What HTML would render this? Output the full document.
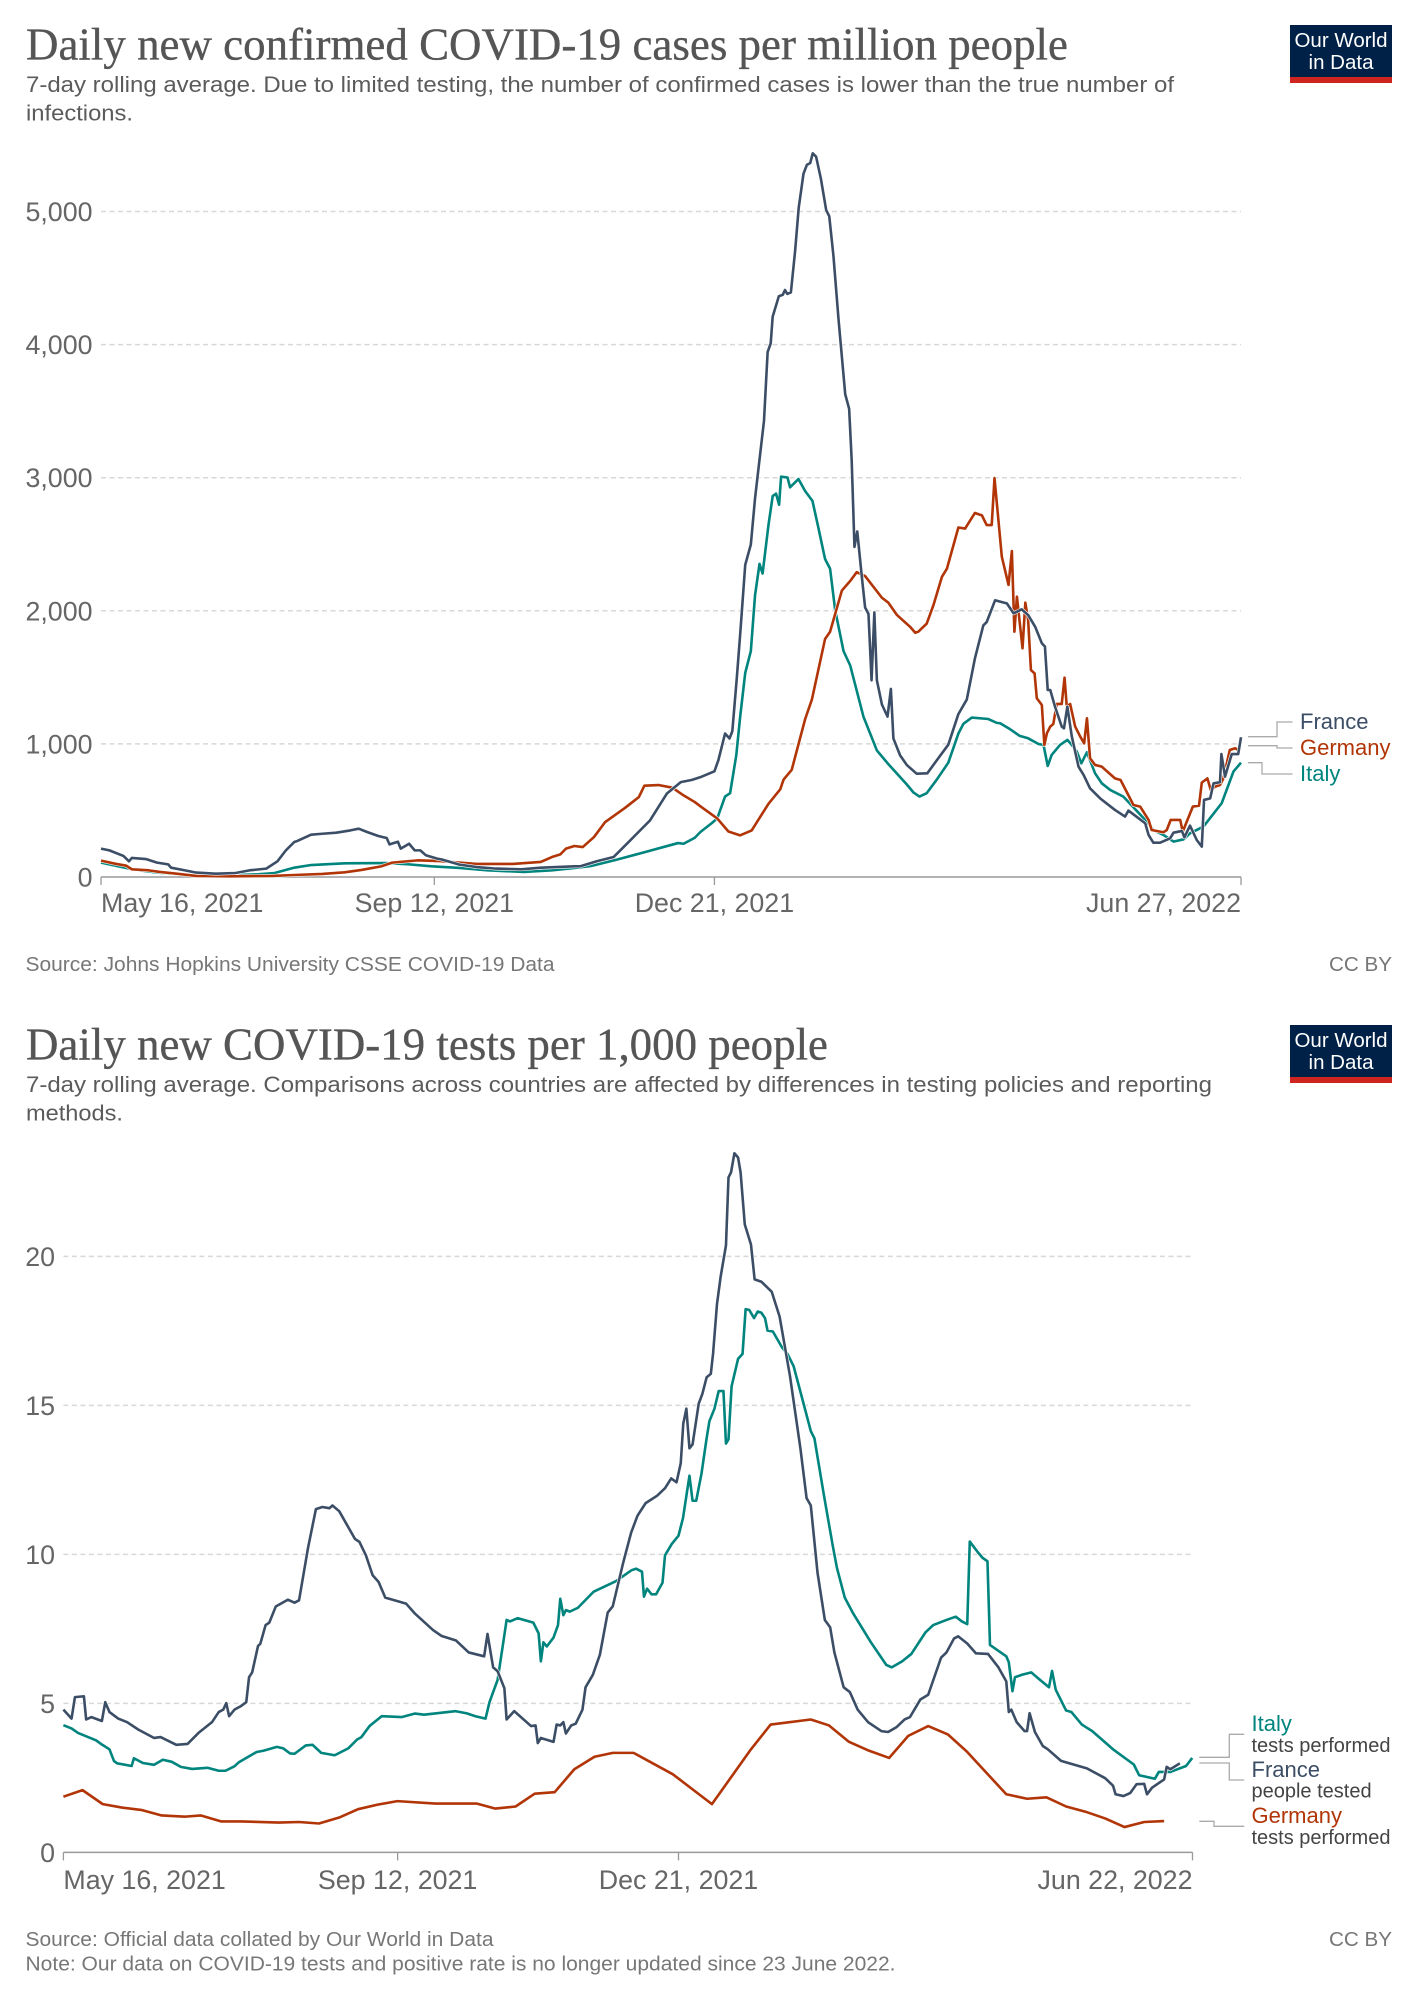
<!DOCTYPE html>
<html lang="en">
<head>
<meta charset="utf-8">
<title>COVID-19 cases and tests</title>
<style>
html,body{margin:0;padding:0;background:#fff;width:1417px;height:2000px;overflow:hidden}
svg{display:block}
text{font-family:"Liberation Sans",Arial,sans-serif}
.title{font-family:"Liberation Serif",Georgia,serif;font-size:46px;fill:#555;stroke:#555;stroke-width:.35}
.sub{font-size:22.5px;fill:#5b5b5b}
.foot{font-size:20px;fill:#777}
.tick{font-size:26.8px;fill:#666}
.logo{font-size:20.5px;fill:#fff;text-anchor:middle}
.lab{font-size:22px}
.lab2{font-size:20px;fill:#444}
.conn{fill:none;stroke:#aaa;stroke-width:1.3}
</style>
</head>
<body>
<svg id="canvas" xmlns="http://www.w3.org/2000/svg" width="1417" height="2000" viewBox="0 0 1417 2000">
  <rect width="1417" height="2000" fill="#fff"/>

  <g>
    <text class="title" x="26" y="59.5" textLength="1042" lengthAdjust="spacingAndGlyphs">Daily new confirmed COVID-19 cases per million people</text>
    <text class="sub" x="26" y="92" textLength="1148" lengthAdjust="spacingAndGlyphs">7-day rolling average. Due to limited testing, the number of confirmed cases is lower than the true number of</text>
    <text class="sub" x="26" y="120.5" textLength="107" lengthAdjust="spacingAndGlyphs">infections.</text>
  </g>
  <g>
    <rect x="1290" y="25" width="102" height="52" fill="#002147"/>
    <rect x="1290" y="77" width="102" height="6" fill="#ce261e"/>
    <text class="logo" x="1341" y="47">Our World</text>
    <text class="logo" x="1341" y="69">in Data</text>
  </g>
  <g id="casesPlot"></g>
  <g>
    <path class="conn" d="M1248 736.7H1277V722H1292.5"/>
    <path class="conn" d="M1248 745.7H1277V748H1292.5"/>
    <path class="conn" d="M1248 762.7H1262V774H1292.5"/>
    <text class="lab" x="1300" y="729" fill="#3c4e66">France</text>
    <text class="lab" x="1300" y="755" fill="#b13507">Germany</text>
    <text class="lab" x="1300" y="781" fill="#00847e">Italy</text>
  </g>
  <text class="foot" x="25.5" y="971" textLength="529" lengthAdjust="spacingAndGlyphs">Source: Johns Hopkins University CSSE COVID-19 Data</text>
  <text class="foot" x="1392" y="971" text-anchor="end" textLength="63" lengthAdjust="spacingAndGlyphs">CC BY</text>

  <g>
    <text class="title" x="26" y="1059.5" textLength="802" lengthAdjust="spacingAndGlyphs">Daily new COVID-19 tests per 1,000 people</text>
    <text class="sub" x="26" y="1092" textLength="1186" lengthAdjust="spacingAndGlyphs">7-day rolling average. Comparisons across countries are affected by differences in testing policies and reporting</text>
    <text class="sub" x="26" y="1120.5" textLength="97" lengthAdjust="spacingAndGlyphs">methods.</text>
  </g>
  <g>
    <rect x="1290" y="1025" width="102" height="52" fill="#002147"/>
    <rect x="1290" y="1077" width="102" height="6" fill="#ce261e"/>
    <text class="logo" x="1341" y="1047">Our World</text>
    <text class="logo" x="1341" y="1069">in Data</text>
  </g>
  <g id="testsPlot"></g>
  <g>
    <path class="conn" d="M1199.3 1757.3H1229.3V1734.3H1244.3"/>
    <path class="conn" d="M1199.3 1763H1229.3V1780H1244.3"/>
    <path class="conn" d="M1199.3 1821.3H1214V1826.3H1244.3"/>
    <text class="lab" x="1251.5" y="1731" fill="#00847e">Italy</text>
    <text class="lab2" x="1251.5" y="1752">tests performed</text>
    <text class="lab" x="1251.5" y="1777" fill="#3c4e66">France</text>
    <text class="lab2" x="1251.5" y="1797.5">people tested</text>
    <text class="lab" x="1251.5" y="1823" fill="#b13507">Germany</text>
    <text class="lab2" x="1251.5" y="1844">tests performed</text>
  </g>
  <text class="foot" x="25.5" y="1946" textLength="468" lengthAdjust="spacingAndGlyphs">Source: Official data collated by Our World in Data</text>
  <text class="foot" x="25.5" y="1970.5" textLength="870" lengthAdjust="spacingAndGlyphs">Note: Our data on COVID-19 tests and positive rate is no longer updated since 23 June 2022.</text>
  <text class="foot" x="1392" y="1946" text-anchor="end" textLength="63" lengthAdjust="spacingAndGlyphs">CC BY</text>
</svg>

<script>
// Day numbers count from May 16, 2021.
const caseDateTicks = [0, 119, 219, 407];
const caseDateLabels = ["May 16, 2021", "Sep 12, 2021", "Dec 21, 2021", "Jun 27, 2022"];
const caseValueTicks = [0, 1000, 2000, 3000, 4000, 5000];
const caseValueLabels = ["0", "1,000", "2,000", "3,000", "4,000", "5,000"];

const caseFranceDays = [0,3,8,10,11,16,20,24,25,30,34,41,48,53,59,63,66,69,70,75,79,84,89,92,95,99,102,103,106,107,110,112,114,116,120,122,128,134,141,150,157,169,171,177,183,188,196,202,207,211,214,219,220.4,222.8,224.4,225.4,227,228.2,230,232,233.5,234.4,236.7,238,239.1,239.8,242,243.4,244.2,245,246.3,247.8,249.1,250.8,252,253.2,254.1,255.3,257,258.9,260,261.5,263.3,265.7,267.1,268,269,270,271.6,272.8,274,275.1,276.1,277,278.8,280.8,282,282.9,285.3,287.7,291.2,295,298.4,302.5,306.1,309.1,312,315,316.2,319.2,321,323.4,325.8,328.7,331,333.5,335.9,337,338,338.9,340.6,343,343.8,345,346.6,349,350.8,353.1,356.7,362,365.6,366.8,372.8,374,375.7,378.1,381.7,382.9,385.9,386.8,388.8,391.2,393,393.8,396,397.2,399.5,400,401.3,403.7,406,407];
const caseFranceValues = [213,200,158,118,143,135,108,95,70,50,33,25,30,50,63,118,200,263,270,318,325,333,350,363,338,308,293,245,265,213,250,200,200,163,138,130,93,75,63,58,70,80,80,118,150,255,425,626,713,730,750,794,877,1078,1041,1096,1497,1824,2345,2498,2844,3008,3427,3944,4010,4210,4363,4374,4410,4381,4392,4701,5029,5284,5350,5364,5437,5412,5248,5011,4964,4665,4192,3627,3518,3135,2480,2596,2261,2025,1977,1478,1988,1478,1296,1205,1413,1041,914,841,776,779,877,994,1224,1333,1642,1890,1915,2079,2069,2056,1981,2011,1968,1881,1756,1731,1405,1405,1280,1130,1117,1280,1055,829,767,666,591,504,454,499,404,316,258,258,291,333,346,298,386,278,228,579,591,704,712,924,754,924,924,1050];

const caseGermanyDays = [0,5,9,11,17,21,27,34,46,61,69,79,87,93,100,104,113,121,134,147,157,161,164,166,169,172,176,180,187,192,194,199,204,208,212,214,220,224,228.2,232.3,238.3,242.5,243.7,246.6,251.4,253.8,258.5,260.3,264.5,267.5,269.8,272.8,278.8,281.1,284.1,288.9,290.7,291.8,294.8,297.2,300.2,302,306.1,308.5,312,314.5,316.2,318,319,321.6,324,325.2,326.1,327,329,330,331,332,333.3,334.1,335.9,336.8,337.7,338.9,340,341.2,343,344,344.8,346,347.8,349.6,351,352,353.1,354.9,357.3,362,364,368.6,371,374,375.1,379.3,380.5,381.9,385.3,386.2,389.8,392,393,395,396.2,397.8,399.5,400.7,403,404.9,406];
const caseGermanyValues = [123,100,85,58,50,38,25,8,5,8,15,23,35,53,80,108,125,120,98,98,113,150,170,213,233,225,300,413,518,600,686,691,671,613,563,531,440,342,313,350,550,659,732,805,1187,1333,1788,1843,2152,2225,2290,2261,2098,2061,1970,1879,1835,1843,1904,2043,2254,2316,2626,2618,2735,2717,2644,2644,2997,2407,2194,2449,1843,2106,1718,2061,1931,1555,1530,1343,1292,992,1080,1130,1150,1300,1300,1498,1280,1300,1130,1055,1004,1192,892,842,829,741,729,541,529,429,353,336,353,429,429,341,529,536,709,741,654,679,691,741,954,967,954];

const caseItalyDays = [0,9,11,20,34,46,56,62,69,75,87,102,110,118,128,138,151,161,170,175,184,193,206,208,212,214,218,220,222.8,224.6,226.8,228.2,230,232,233.5,235.1,236.2,238.3,239.8,241,242.1,242.8,245.1,246,249,251.4,254,256.1,258.5,260.3,262.1,265.1,267.5,272.2,274.6,277,281.1,287.7,290.1,292.2,294.8,298.4,302.5,306.1,307.9,310.9,316.8,319.8,321,324.6,328,331,334.7,336.5,338,339.4,342.4,345,346.6,348.4,350,352,354.9,357.3,360.3,365,373.4,375.7,379.3,382.9,386.5,388.8,393.6,400.1,404.3,407];
const caseItalyValues = [108,68,58,33,13,13,20,30,70,90,103,105,95,80,68,50,38,50,70,83,130,180,255,250,295,338,404,440,604,630,914,1205,1533,1697,2116,2352,2280,2644,2862,2880,2797,3008,3001,2928,2990,2899,2826,2626,2389,2316,2006,1697,1588,1205,1078,951,848,695,634,604,630,732,859,1078,1151,1198,1187,1158,1155,1110,1060,1042,999,992,834,917,992,1030,992,942,854,937,779,704,654,604,416,353,316,266,283,328,379,554,792,859];

const testDateTicks = [0, 119, 219, 402];
const testDateLabels = ["May 16, 2021", "Sep 12, 2021", "Dec 21, 2021", "Jun 22, 2022"];
const testValueTicks = [0, 5, 10, 15, 20];
const testValueLabels = ["0", "5", "10", "15", "20"];

const testFranceDays = [0,2.9,4.1,7.3,8.1,10,13.7,14.9,16.4,19.5,22.7,26.7,32.3,34.6,40.2,44.2,48.1,52.9,55.3,56.9,58,59,60.9,63.2,65.1,66.1,67.2,69.3,70.1,72,73.3,75.6,79.9,82.3,83.9,87.1,89.9,92.2,94.7,95.8,98.2,103.8,105.4,107.7,110.1,112.2,114.6,122,125.2,131.6,134.7,139.8,144.3,149.8,151,153,154.6,157,157.8,160.5,166.5,168.1,168.9,170,174.5,175.6,176.9,178,178.9,180.8,182.4,184.8,185.9,188.5,191,193.8,195.6,199.3,202.1,204.4,207.3,211.4,214.2,216.4,218.3,219.8,220.7,221.8,222.9,224,226.2,227.5,229,230.5,231.3,232.7,234,235.9,236.8,237.7,238.9,240.2,241.1,242.6,244.8,246.1,248.5,252.2,255,258.7,262.4,264.6,266.1,268.5,271.1,273,274.5,277.8,280,282.8,286.5,291.2,293.6,296.7,299.5,301.4,305.1,307.9,312.5,314.4,317.1,318.6,321.8,324.9,329.2,332.9,335.7,336.6,337.5,339.4,342.2,343.1,344,345.9,348.7,350.5,355.2,364.4,370.9,373.7,374.6,377.4,379.8,382.1,384.8,385.8,387.6,391.9,392.8,394.1,397.5];
const testFranceValues = [4.79,4.49,5.21,5.24,4.46,4.54,4.41,5.04,4.71,4.49,4.37,4.12,3.84,3.87,3.61,3.64,4.01,4.37,4.71,4.79,5.01,4.57,4.79,4.91,5.04,5.88,6.04,6.93,7,7.63,7.71,8.25,8.48,8.38,8.46,10.22,11.52,11.59,11.55,11.64,11.45,10.52,10.42,9.97,9.3,9.08,8.55,8.35,8.01,7.46,7.26,7.11,6.71,6.58,7.33,6.21,6.08,5.51,4.46,4.74,4.24,4.26,3.67,3.84,3.71,4.29,4.26,4.37,3.99,4.26,4.32,4.79,5.54,5.96,6.63,8.05,8.26,9.72,10.72,11.3,11.72,11.97,12.22,12.55,12.42,13.06,14.39,14.89,13.56,13.69,15.06,15.39,15.94,16.06,16.73,18.4,19.32,20.37,22.65,22.82,23.46,23.32,22.82,21.07,20.4,19.23,19.15,18.81,17.98,15.98,13.56,11.89,11.64,9.38,7.8,7.55,6.71,5.54,5.38,4.79,4.37,4.07,4.04,4.21,4.46,4.54,5.13,5.29,6.54,6.71,7.18,7.25,7.01,6.68,6.66,6.21,5.74,4.71,4.79,4.37,4.07,4.07,4.67,4.04,3.57,3.46,3.07,2.82,2.49,2.24,1.95,1.89,1.99,2.29,2.3,1.95,2.17,2.45,2.87,2.79,2.99];

const testItalyDays = [0,2.9,5.2,11.6,13.7,16.4,18,19.1,24.3,25.1,28.3,32.3,35.4,38.6,41.8,45.8,51.3,55.3,57.7,60.9,62.4,68.8,71.2,76,78.3,80.7,82.3,86.3,88.7,91.8,96.6,101.4,104.6,106.1,109,113.3,120.4,125.2,128.4,139.5,143.5,146.7,150.3,151.7,154.6,156.2,157.8,159,161.7,167.3,169.2,170,170.9,172.1,174.5,176.1,176.9,178,178.9,180.3,183.2,188.8,196.7,202.3,203.9,206,206.7,207.8,209.4,211,213.3,214.2,216.6,219,220.6,222.9,224,225.3,227.2,229,230,231.8,233.3,235,235.9,236.8,237.9,240.2,241.8,242.9,244.2,245.9,247.2,248.5,249.8,250.7,252.6,255.9,257.8,260,263.3,266.1,267.4,270.8,273.9,275.4,278.2,281,287.5,293,294.9,298.6,301.9,306.9,309.7,314.4,317.7,319.9,321.8,322.7,325.5,327.3,329,329.9,335.7,336.6,337.9,338.8,341.3,344.6,347.7,350.9,352,353.3,357,358.9,362.6,366.3,373.7,381.1,383,388.6,390,391.3,394.1,399.7,401.9];
const testItalyValues = [4.27,4.16,4.01,3.76,3.62,3.46,3.07,2.99,2.9,3.16,3,2.94,3.11,3.04,2.87,2.8,2.84,2.74,2.74,2.89,3.02,3.37,3.41,3.54,3.49,3.32,3.31,3.59,3.61,3.34,3.26,3.49,3.79,3.87,4.24,4.57,4.54,4.66,4.62,4.74,4.67,4.57,4.49,5.04,5.79,6.79,7.8,7.75,7.86,7.71,7.35,6.41,7.05,6.91,7.21,7.63,8.51,7.96,8.13,8.08,8.21,8.75,9.1,9.47,9.52,9.42,8.58,8.85,8.66,8.66,9.05,9.97,10.35,10.63,11.22,12.64,11.8,11.8,12.72,13.89,14.47,14.89,15.48,15.48,13.72,13.86,15.64,16.56,16.73,18.23,18.2,17.93,18.15,18.11,17.93,17.51,17.48,16.94,16.73,16.31,15.14,14.14,13.89,11.97,10.3,9.55,8.55,8.05,7.05,6.29,6.21,6.41,6.66,7.38,7.63,7.8,7.91,7.75,7.66,10.43,10.08,9.88,9.77,6.96,6.58,6.38,5.41,5.88,5.96,6.04,5.79,5.54,6.09,5.46,4.76,4.71,4.29,4.07,3.46,2.95,2.59,2.47,2.7,2.7,2.7,2.9,3.17];

const testGermanyDays = [0,6.8,14,21.1,28,35,43.4,49,56.1,63.2,76.7,83.9,91,98.2,104.9,111.7,118.9,132.4,147.1,153.8,161,167.8,174.9,181.9,189.1,195.6,203,217,230.9,244.8,251.8,266.1,272.6,279.7,286.9,294,300.8,307.9,314.9,321.8,335.7,343.1,350,357,364.4,370.9,377.8,384.8,391.9];
const testGermanyValues = [1.87,2.09,1.62,1.5,1.42,1.24,1.2,1.24,1.04,1.04,1,1.02,0.97,1.17,1.45,1.6,1.72,1.64,1.64,1.47,1.54,1.97,2.02,2.79,3.21,3.34,3.34,2.62,1.62,3.46,4.29,4.46,4.26,3.71,3.41,3.17,3.91,4.24,3.96,3.37,1.95,1.8,1.85,1.54,1.35,1.14,0.85,1.02,1.05];

const SVG_NS = "http://www.w3.org/2000/svg";

function makeLinear(domainMin, domainMax, rangeMin, rangeMax) {
  return function (v) {
    return rangeMin + (v - domainMin) * (rangeMax - rangeMin) / (domainMax - domainMin);
  };
}

function drawChart(opts) {
  const root = document.getElementById(opts.rootId);
  const prefix = opts.prefix;

  opts.valueTicks.forEach(function (v, i) {
    const y = opts.yScale(v);
    if (v !== 0) {
      const grid = document.createElementNS(SVG_NS, "line");
      
      
      grid.setAttribute("x1", opts.xLeft);
      grid.setAttribute("x2", opts.xRight);
      grid.setAttribute("y1", y);
      grid.setAttribute("y2", y);
      grid.setAttribute("stroke", "#d8d8d8");
      grid.setAttribute("stroke-width", "1.5");
      grid.setAttribute("stroke-dasharray", "5 3.5");
      root.appendChild(grid);
    }
    const label = document.createElementNS(SVG_NS, "text");
    
    
    label.setAttribute("class", "tick");
    label.setAttribute("x", opts.yLabelX);
    label.setAttribute("y", y + 9.5);
    label.setAttribute("text-anchor", "end");
    label.textContent = opts.valueLabels[i];
    root.appendChild(label);
  });

  const axis = document.createElementNS(SVG_NS, "line");
  
  
  axis.setAttribute("x1", opts.xLeft);
  axis.setAttribute("x2", opts.xRight);
  axis.setAttribute("y1", opts.yBase);
  axis.setAttribute("y2", opts.yBase);
  axis.setAttribute("stroke", "#999");
  axis.setAttribute("stroke-width", "1.5");
  root.appendChild(axis);

  opts.dateTicks.forEach(function (d, i) {
    const x = opts.xScale(d);
    const tick = document.createElementNS(SVG_NS, "line");
    
    
    tick.setAttribute("x1", x);
    tick.setAttribute("x2", x);
    tick.setAttribute("y1", opts.yBase);
    tick.setAttribute("y2", opts.yBase + 8);
    tick.setAttribute("stroke", "#999");
    tick.setAttribute("stroke-width", "1.3");
    root.appendChild(tick);

    const label = document.createElementNS(SVG_NS, "text");
    
    
    label.setAttribute("class", "tick");
    label.setAttribute("x", x);
    label.setAttribute("y", opts.xLabelY);
    const anchor = i === 0 ? "start" : (i === opts.dateTicks.length - 1 ? "end" : "middle");
    label.setAttribute("text-anchor", anchor);
    label.textContent = opts.dateLabels[i];
    root.appendChild(label);
  });

  opts.series.forEach(function (s) {
    let d = "";
    s.days.forEach(function (day, i) {
      d += (i === 0 ? "M" : "L") + opts.xScale(day).toFixed(2) + " " + opts.yScale(s.values[i]).toFixed(2);
    });
    const halo = document.createElementNS(SVG_NS, "path");
    
    
    halo.setAttribute("d", d);
    halo.setAttribute("fill", "none");
    halo.setAttribute("stroke", "#fff");
    halo.setAttribute("stroke-width", "3.8");
    halo.setAttribute("stroke-linejoin", "round");
    root.appendChild(halo);

    const line = document.createElementNS(SVG_NS, "path");
    
    
    line.setAttribute("d", d);
    line.setAttribute("fill", "none");
    line.setAttribute("stroke", s.color);
    line.setAttribute("stroke-width", "2.6");
    line.setAttribute("stroke-linejoin", "round");
    root.appendChild(line);
  });
}

drawChart({
  rootId: "casesPlot",
  prefix: "cases",
  xScale: makeLinear(0, 407, 101, 1241),
  yScale: makeLinear(0, 5000, 877, 211.5),
  xLeft: 101,
  xRight: 1241,
  yBase: 877,
  yLabelX: 92.5,
  xLabelY: 912,
  dateTicks: caseDateTicks,
  dateLabels: caseDateLabels,
  valueTicks: caseValueTicks,
  valueLabels: caseValueLabels,
  series: [
    { name: "italy", color: "#00847e", days: caseItalyDays, values: caseItalyValues },
    { name: "germany", color: "#b13507", days: caseGermanyDays, values: caseGermanyValues },
    { name: "france", color: "#3c4e66", days: caseFranceDays, values: caseFranceValues }
  ]
});

drawChart({
  rootId: "testsPlot",
  prefix: "tests",
  xScale: makeLinear(0, 402, 63.4, 1192.5),
  yScale: makeLinear(0, 20, 1852.4, 1256.4),
  xLeft: 63.4,
  xRight: 1192.5,
  yBase: 1852.4,
  yLabelX: 55,
  xLabelY: 1889,
  dateTicks: testDateTicks,
  dateLabels: testDateLabels,
  valueTicks: testValueTicks,
  valueLabels: testValueLabels,
  series: [
    { name: "germany", color: "#b13507", days: testGermanyDays, values: testGermanyValues },
    { name: "italy", color: "#00847e", days: testItalyDays, values: testItalyValues },
    { name: "france", color: "#3c4e66", days: testFranceDays, values: testFranceValues }
  ]
});
</script>
</body>
</html>
